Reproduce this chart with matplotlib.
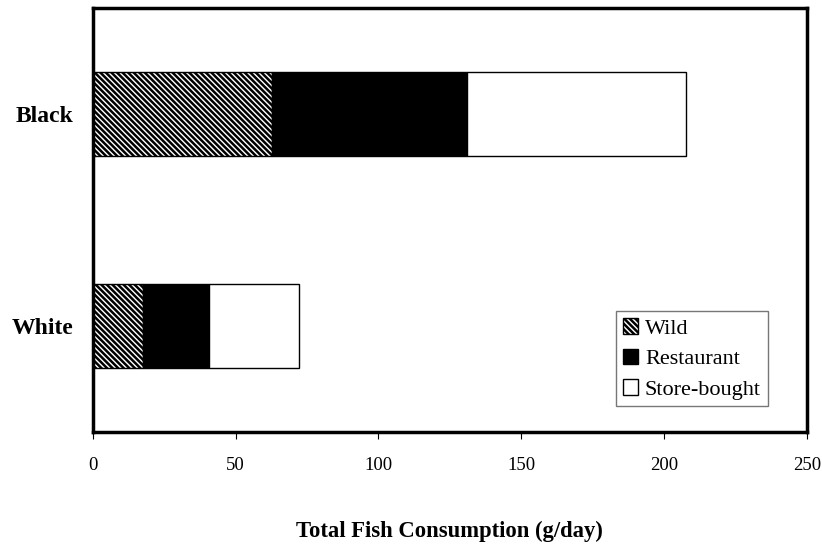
import matplotlib
matplotlib.use('Agg')
import matplotlib.pyplot as plt

groups = ['White', 'Black']
wild = [17.5, 62.7]
restaurant = [23.1, 68.3]
store = [31.5, 76.6]

plt.rcParams['font.family'] = ['Liberation Serif', 'DejaVu Serif']
plt.rcParams['hatch.linewidth'] = 1.8

fig = plt.figure(figsize=(8.22, 5.46), dpi=100)
ax = fig.add_axes([0.113, 0.209, 0.8686, 0.776])

y = [0, 1]
left2 = [w for w in wild]
left3 = [w + r for w, r in zip(wild, restaurant)]
ax.barh(y, wild, height=0.4, color='white', edgecolor='black', hatch='\\\\\\\\\\\\', linewidth=1, label='Wild')
ax.barh(y, restaurant, left=left2, height=0.4, color='black', edgecolor='black', linewidth=1, label='Restaurant')
ax.barh(y, store, left=left3, height=0.4, color='white', edgecolor='black', linewidth=1, label='Store-bought')

ax.set_xlim(0, 250)
ax.set_ylim(-0.5, 1.5)
ax.set_yticks(y)
ax.set_yticklabels(groups, fontsize=17, fontweight='bold')
ax.set_xticks([0, 50, 100, 150, 200, 250])
ax.tick_params(axis='x', labelsize=13.5, length=5, pad=13)
ax.tick_params(axis='y', length=0, pad=14)
for s in ax.spines.values():
    s.set_linewidth(2.5)

ax.set_xlabel('Total Fish Consumption (g/day)', fontsize=16.3, fontweight='bold', labelpad=34)

leg = ax.legend(loc='lower right', bbox_to_anchor=(0.945, 0.06), fontsize=16, frameon=True, fancybox=False,
                handlelength=0.7, handleheight=0.7, handletextpad=0.3, labelspacing=0.45, borderpad=0.3,
                borderaxespad=0)
leg.get_frame().set_edgecolor('#555555')
leg.get_frame().set_linewidth(1)

fig.savefig('out.png', dpi=100)
